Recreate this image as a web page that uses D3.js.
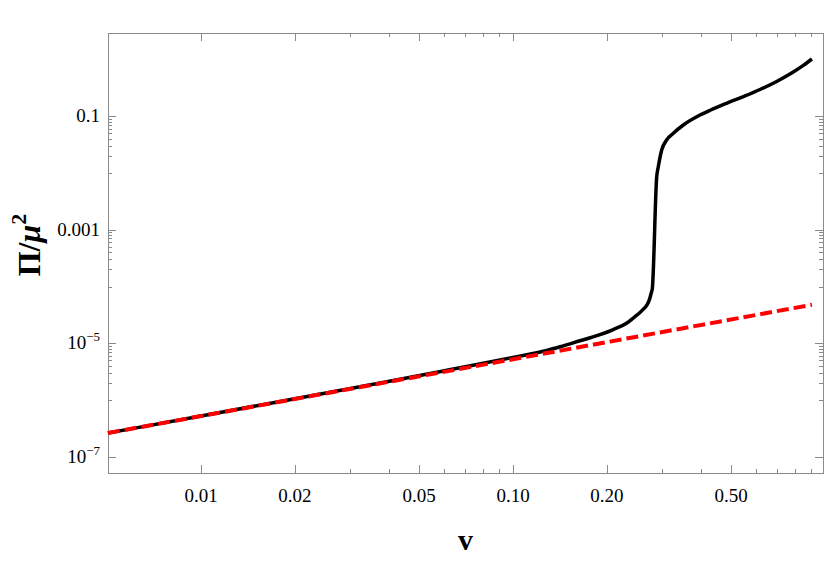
<!DOCTYPE html>
<html>
<head>
<meta charset="utf-8">
<script src="https://cdn.jsdelivr.net/npm/d3@7"></script>
<style>
  body { margin:0; background:#fff; }
  text { font-family:"Liberation Serif","Times New Roman",serif; }
</style>
</head>
<body>
<div id="chart"></div>
<script>
// Data
const blackV = [0.00503, 0.01, 0.02, 0.0375, 0.0613, 0.1, 0.1282, 0.1415, 0.164, 0.1805, 0.2096, 0.2318,
  0.245, 0.2553, 0.264, 0.2689, 0.274, 0.278, 0.2795, 0.2888, 0.2922, 0.2996, 0.3107, 0.3265, 0.3515,
  0.3975, 0.43, 0.4853, 0.55, 0.619, 0.70, 0.789, 0.85, 0.908];
const blackP = [2.64e-7, 5.27e-7, 1.06e-6, 2.0e-6, 3.35e-6, 5.65e-6, 7.5e-6, 8.7e-6, 1.11e-5, 1.30e-5, 1.75e-5, 2.28e-5,
  2.9e-5, 3.5e-5, 4.2e-5, 4.73e-5, 6.0e-5, 8.0e-5, 9.0e-5, 8.55e-3, 0.0128, 0.0252, 0.0378, 0.0497, 0.0695,
  0.104, 0.1276, 0.1686, 0.222, 0.293, 0.406, 0.589, 0.77, 1.007];
const redV = [0.00503, 0.01, 0.1, 0.908];
const redP = [2.64e-7, 5.25e-7, 5.25e-6, 4.77e-5];

const xMajor = [0.01, 0.02, 0.05, 0.1, 0.2, 0.5];
const xMajorLabels = ["0.01", "0.02", "0.05", "0.10", "0.20", "0.50"];
const xMinor = [0.03, 0.04, 0.06, 0.07, 0.08, 0.09, 0.3, 0.4, 0.6, 0.7, 0.8, 0.9];
const yMajor = [1e-7, 1e-5, 1e-3, 0.1];
const yMajorLabels = [["10", "\u22127"], ["10", "\u22125"], ["0.001", ""], ["0.1", ""]];
const yMinorSteps = [0.1, 0.2, 0.3, 0.4, 0.5, 0.6, 0.7, 0.8, 0.9];

const W = 830, H = 563;
const plotL = 108, plotR = 823, plotT = 33, plotB = 473;

const svg = d3.select("#chart").append("svg").attr("width", W).attr("height", H);

const x = d3.scaleLog().domain([0.005033, 0.98535]).range([plotL, plotR]);
const y = d3.scaleLog().domain([5.23e-8, 2.888]).range([plotB, plotT]);

// minor y ticks under the 3 upper majors
const yMinor = [];
for (let m of yMajor.slice(1)) {
  for (let k of yMinorSteps) yMinor.push(m * k);
}

const frameColor = "#8a8a8a";
const tickGroup = svg.append("g").attr("stroke", frameColor).attr("stroke-width", 1);

// x ticks, bottom and top, pointing inward
const xTick = (vals, len) => {
  vals.forEach((v) => {
    const px = Math.round(x(v)) + 0.5;
    tickGroup.append("line").attr("x1", px).attr("x2", px).attr("y1", plotB).attr("y2", plotB - len);
    tickGroup.append("line").attr("x1", px).attr("x2", px).attr("y1", plotT).attr("y2", plotT + len);
  });
};
xTick(xMajor, 8);
xTick(xMinor, 4);

const yTick = (vals, len) => {
  vals.forEach((v) => {
    const py = Math.round(y(v)) + 0.5;
    tickGroup.append("line").attr("x1", plotL).attr("x2", plotL + len).attr("y1", py).attr("y2", py);
    tickGroup.append("line").attr("x1", plotR).attr("x2", plotR - len).attr("y1", py).attr("y2", py);
  });
};
yTick(yMajor, 8);
yTick(yMinor, 4);

// frame
svg.append("rect")
  .attr("x", plotL + 0.5).attr("y", plotT + 0.5)
  .attr("width", plotR - plotL).attr("height", plotB - plotT)
  .attr("fill", "none").attr("stroke", frameColor).attr("stroke-width", 1);

// tick labels
svg.append("g").selectAll("text").data(xMajor).enter().append("text")
  .attr("x", (d) => x(d))
  .attr("y", 502)
  .attr("text-anchor", "middle")
  .attr("font-size", 19)
  .text((d, i) => xMajorLabels[i]);

const yLab = svg.append("g").selectAll("text").data(yMajor).enter().append("text")
  .attr("x", 100)
  .attr("y", (d) => y(d) + 6)
  .attr("text-anchor", "end")
  .attr("font-size", 19);
yLab.append("tspan").text((d, i) => yMajorLabels[i][0]);
yLab.append("tspan")
  .attr("font-size", 13)
  .attr("dy", -8)
  .text((d, i) => yMajorLabels[i][1]);

// curves
const line = d3.line().x((d) => x(d[0])).y((d) => y(d[1])).curve(d3.curveMonotoneX);

svg.append("path")
  .datum(d3.zip(blackV, blackP))
  .attr("d", line)
  .attr("fill", "none")
  .attr("stroke", "#000")
  .attr("stroke-width", 3.5)
  .attr("stroke-linejoin", "round");

svg.append("path")
  .datum(d3.zip(redV, redP))
  .attr("d", line.curve(d3.curveLinear))
  .attr("fill", "none")
  .attr("stroke", "#ff0000")
  .attr("stroke-width", 4)
  .attr("stroke-dasharray", "12,5");

// axis titles
svg.append("text")
  .attr("x", (plotL + plotR) / 2)
  .attr("y", 550)
  .attr("text-anchor", "middle")
  .attr("font-size", 30)
  .attr("font-weight", "bold")
  .text("v");

const yt = svg.append("text")
  .attr("transform", `translate(40,245) rotate(-90)`)
  .attr("text-anchor", "middle")
  .attr("font-size", 32)
  .attr("font-weight", "bold");
yt.append("tspan").text("\u03A0/");
yt.append("tspan").attr("font-style", "italic").text("\u03BC");
yt.append("tspan").attr("font-size", 22).attr("dy", -14).text("2");
</script>
</body>
</html>
